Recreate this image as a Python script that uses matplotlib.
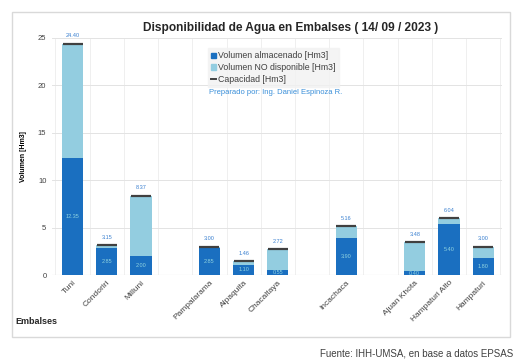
import matplotlib
matplotlib.use("Agg")
import matplotlib.pyplot as plt
from matplotlib.patches import Rectangle
from matplotlib.lines import Line2D
import numpy as np

plt.rcParams["font.family"] = ["Liberation Sans", "DejaVu Sans"]

# reservoirs grouped by system, None = gap between systems
embalses = ["Tuni", "Condoriri", "Milluni", None,
            "Pampalarama", "Alpaquita", "Chacaltaya", None,
            "Incachaca", None,
            "Ajuan Khota", "Hampaturi Alto", "Hampaturi"]
capacidad = [24.40, 3.15, 8.37, None, 3.00, 1.46, 2.72, None, 5.16, None, 3.48, 6.04, 3.00]
almacenado = [12.35, 2.85, 2.00, None, 2.85, 1.10, 0.55, None, 3.90, None, 0.40, 5.40, 1.80]

DARK = "#1a6fc0"
LIGHT = "#93cde0"


def main():
    fig = plt.figure(figsize=(5.16, 3.6), dpi=100)
    fig.patch.set_facecolor("white")

    # outer frame of the chart area
    fig.patches.append(Rectangle((12 / 516, 1 - 337 / 360), 498 / 516, 325 / 360,
                                 transform=fig.transFigure, fill=False,
                                 edgecolor="#d9d9d9", linewidth=1.0))

    ax = fig.add_axes([52 / 516, 1 - 275 / 360, 450 / 516, 237 / 360])

    idx = [i for i, e in enumerate(embalses) if e is not None]
    x = np.array(idx, dtype=float)
    cap = np.array([capacidad[i] for i in idx])
    alm = np.array([almacenado[i] for i in idx])
    nodisp = cap - alm
    w = 0.62

    ax.bar(x, alm, width=w, color=DARK, zorder=3)
    ax.bar(x, nodisp, width=w, bottom=alm, color=LIGHT, zorder=3)
    ax.plot(x, cap, linestyle="none", marker="_", markersize=15,
            markeredgewidth=1.6, color="#404040", zorder=4)

    for xi, c, a in zip(x, cap, alm):
        ax.text(xi, c + 0.55, f"{c:.2f}", ha="center", va="bottom",
                fontsize=4, color="#3a80d0")
        ax.text(xi, a / 2, f"{a:.2f}", ha="center", va="center",
                fontsize=4, color="#8fd3e0", zorder=5)

    ax.set_xlim(-0.6, 12.55)
    ax.set_ylim(0, 25)
    ax.set_yticks(range(0, 26, 5))
    ax.set_xticks(x)
    ax.set_xticklabels([embalses[i] for i in idx], rotation=45, ha="right",
                       rotation_mode="anchor", fontsize=6, color="#404040")
    ax.tick_params(axis="y", labelsize=5.5, length=0, pad=4, colors="#404040")
    ax.tick_params(axis="x", length=0, pad=3)
    ax.set_xticks(np.arange(-0.5, 12.6, 1), minor=True)
    ax.tick_params(axis="x", which="minor", length=0)
    ax.grid(axis="y", color="#e3e3e3", linewidth=0.7, zorder=0)
    ax.grid(axis="x", which="minor", color="#ececec", linewidth=0.6, zorder=0)
    ax.grid(axis="x", which="major", visible=False)
    for s in ax.spines.values():
        s.set_visible(False)
    ax.axhline(0, color="#d0d0d0", linewidth=0.8, zorder=2)

    ax.set_ylabel("Volumen [Hm3]", fontsize=5, fontweight="bold", labelpad=8)

    fig.text(291 / 516, 1 - 28 / 360,
             "Disponibilidad de Agua en Embalses ( 14/ 09 / 2023 )",
             ha="center", va="center", fontsize=8.6, fontweight="bold",
             color="#262626")

    handles = [Rectangle((0, 0), 1, 1, color=DARK),
               Rectangle((0, 0), 1, 1, color=LIGHT),
               Line2D([0], [0], color="#404040", linewidth=1.4)]
    leg = fig.legend(handles,
                     ["Volumen almacenado [Hm3]",
                      "Volumen NO disponible [Hm3]",
                      "Capacidad [Hm3]"],
                     loc="upper left", bbox_to_anchor=(204 / 516, 1 - 44 / 360),
                     fontsize=6.3, frameon=True, fancybox=False,
                     handlelength=0.55, handleheight=0.55, handletextpad=0.25,
                     labelspacing=0.3, borderpad=0.35, labelcolor="#404040")
    leg.get_frame().set_facecolor("#f2f2f2")
    leg.get_frame().set_edgecolor("#f2f2f2")

    fig.text(276 / 516, 1 - 93 / 360, "Preparado por: Ing. Daniel Espinoza R.",
             ha="center", va="center", fontsize=5.5, color="#3a8fd9")

    fig.text(15 / 516, 1 - 322 / 360, "Embalses", ha="left", va="center",
             fontsize=6.5, fontweight="bold", color="#262626")

    fig.text(513 / 516, 1 - 353 / 360, "Fuente: IHH-UMSA, en base a datos EPSAS",
             ha="right", va="center", fontsize=7, color="#404040")

    fig.savefig("out.png", dpi=100)


if __name__ == "__main__":
    main()
